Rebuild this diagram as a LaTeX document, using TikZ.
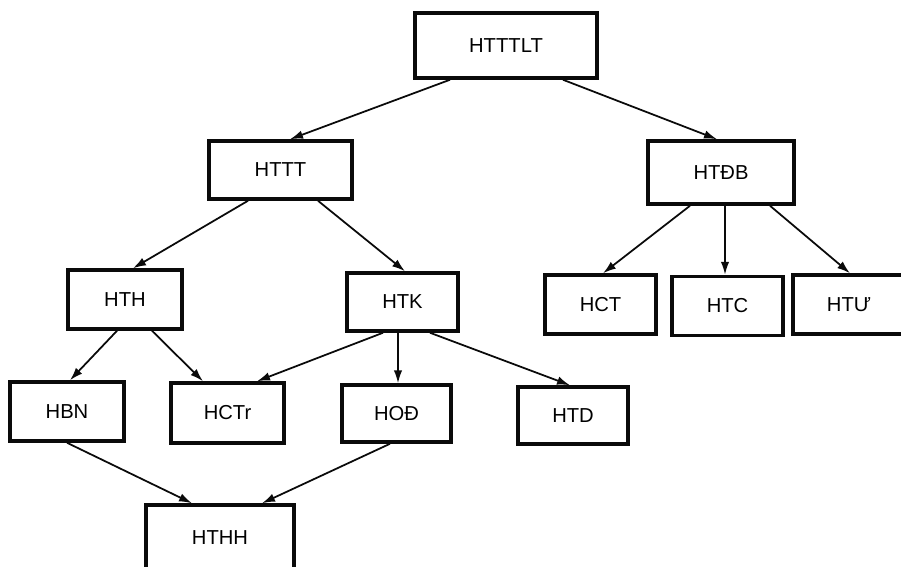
\documentclass[tikz,border=0pt]{standalone}
\usepackage{fontspec}
\setsansfont{Liberation Sans}
\usetikzlibrary{arrows.meta, calc}
\definecolor{lineColor}{RGB}{10, 10, 10}
\tikzset{
    font=\fontsize{11.5}{14}\selectfont\sffamily,
    % --- khối ---
    styleBox/.style={
        rectangle, draw=lineColor, line width=2pt,
        fill=white, inner sep=0pt, align=center
    },
    % --- mũi tên ---
    conn/.style={
        draw=lineColor, line width=1pt,
        -{Latex[length=2.6mm, width=1.7mm]}
    }
}

\begin{document}
\begin{tikzpicture}[x=0.02cm, y=-0.02cm]

    \useasboundingbox (0,0) rectangle (901,566);

    % =========================================================
    % Các khối
    % =========================================================

    \node [styleBox, minimum width=3.64cm, minimum height=1.30cm] (htttlt) at (506,45.5) {HTTTLT};

    \node [styleBox, minimum width=2.86cm, minimum height=1.16cm] (httt) at (280.5,170) {HTTT};
    \node [styleBox, minimum width=2.92cm, minimum height=1.26cm] (htdb) at (721,172.5) {HTĐB};

    \node [styleBox, minimum width=2.28cm, minimum height=1.18cm] (hth) at (125,299.5) {HTH};
    \node [styleBox, minimum width=2.22cm, minimum height=1.16cm] (htk) at (402.5,302) {HTK};

    \node [styleBox, minimum width=2.22cm, minimum height=1.18cm] (hct) at (600.5,304.5) {HCT};
    \node [styleBox, minimum width=2.22cm, minimum height=1.18cm] (htc) at (727.5,306) {HTC};
    \node [styleBox, minimum width=2.24cm, minimum height=1.18cm] (htu) at (849,304.5) {HTƯ};

    \node [styleBox, minimum width=2.28cm, minimum height=1.18cm] (hbn) at (67,411.5) {HBN};
    \node [styleBox, minimum width=2.26cm, minimum height=1.20cm] (hctr) at (227.5,413) {HCTr};
    \node [styleBox, minimum width=2.18cm, minimum height=1.14cm] (hod) at (396.5,413.5) {HOĐ};
    \node [styleBox, minimum width=2.20cm, minimum height=1.14cm] (htd) at (573,415.5) {HTD};

    \node [styleBox, minimum width=2.96cm, minimum height=1.30cm] (hthh) at (220,537.5) {HTHH};

    % =========================================================
    % Các mũi tên
    % =========================================================

    \draw [conn] ($(htttlt.south)+(-56,0)$) -- ($(httt.north)+(9.5,0)$);
    \draw [conn] ($(htttlt.south)+(57,0)$) -- ($(htdb.north)+(-4,0)$);

    \draw [conn] ($(httt.south)+(-32.5,0)$) -- ($(hth.north)+(8,0)$);
    \draw [conn] ($(httt.south)+(37.5,0)$) -- ($(htk.north)+(2.5,0)$);

    \draw [conn] ($(htdb.south)+(-31,0)$) -- ($(hct.north)+(2.5,0)$);
    \draw [conn] ($(htdb.south)+(4,0)$) -- ($(htc.north)+(-2.5,0)$);
    \draw [conn] ($(htdb.south)+(49,0)$) -- ($(htu.north)+(1,0)$);

    \draw [conn] ($(hth.south)+(-8,0)$) -- ($(hbn.north)+(3,0)$);
    \draw [conn] ($(hth.south)+(27,0)$) -- ($(hctr.north)+(-24.5,0)$);

    \draw [conn] ($(htk.south)+(-19.5,0)$) -- ($(hctr.north)+(29.5,0)$);
    \draw [conn] ($(htk.south)+(-4.5,0)$) -- ($(hod.north)+(1.5,0)$);
    \draw [conn] ($(htk.south)+(27.5,0)$) -- ($(htd.north)+(-3,0)$);

    \draw [conn] (hbn.south) -- ($(hthh.north)+(-28,0)$);
    \draw [conn] ($(hod.south)+(-6.5,0)$) -- ($(hthh.north)+(42,0)$);

\end{tikzpicture}
\end{document}
